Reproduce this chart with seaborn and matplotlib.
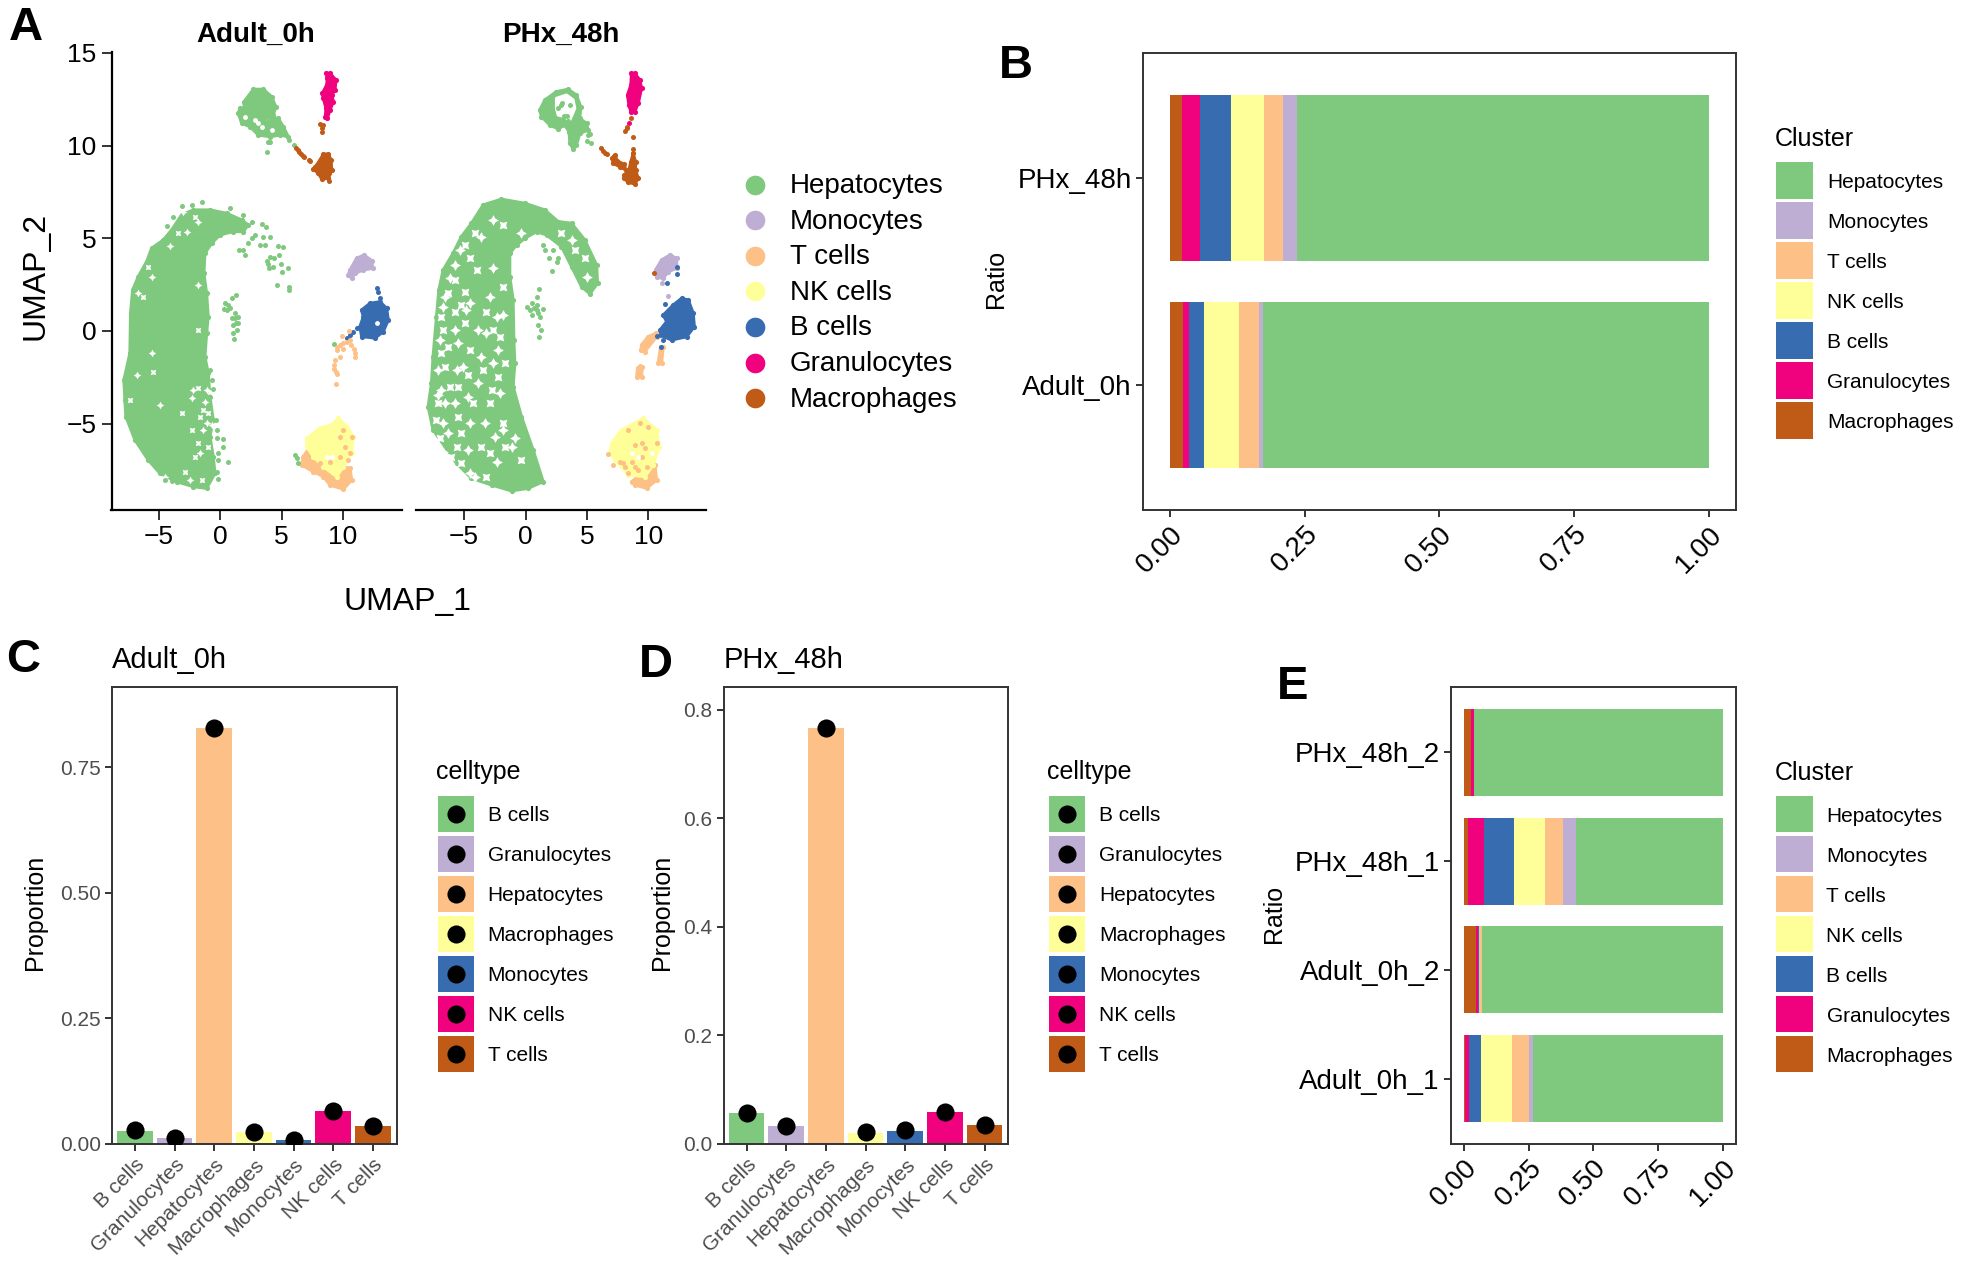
#!/usr/bin/env python3
# Cell composition figure: UMAPs (A), stacked ratios (B, E), proportions (C, D)
import matplotlib
matplotlib.use("Agg")
import matplotlib.pyplot as plt
from matplotlib.patches import Rectangle
import seaborn as sns

sns.set_style('white')
plt.rcParams['font.family'] = ['Liberation Sans', 'DejaVu Sans']
plt.rcParams['text.color'] = 'black'

W, H = 1961, 1273

# %% colours
green, purple, orange, yellow, blue, pink, brown = ('#7FC97F', '#BEAED4', '#FDC086', '#FFFF99',
                                                    '#386CB0', '#F0027F', '#BF5B17')
accent = [green, purple, orange, yellow, blue, pink, brown]

# %% bar data
cluster_names = ['Hepatocytes', 'Monocytes', 'T cells', 'NK cells', 'B cells', 'Granulocytes', 'Macrophages']
celltypes = ['B cells', 'Granulocytes', 'Hepatocytes', 'Macrophages', 'Monocytes', 'NK cells', 'T cells']

# order in the stacks: Macrophages .. Hepatocytes
b_groups = ['PHx_48h', 'Adult_0h']
b_phx = [0.023, 0.033, 0.058, 0.060, 0.037, 0.025, 0.764]
b_adult = [0.024, 0.012, 0.027, 0.065, 0.037, 0.008, 0.827]

e_groups = ['PHx_48h_2', 'PHx_48h_1', 'Adult_0h_2', 'Adult_0h_1']
e_phx2 = [0.027, 0.010, 0.000, 0.000, 0.002, 0.001, 0.960]
e_phx1 = [0.017, 0.061, 0.115, 0.120, 0.071, 0.047, 0.569]
e_adult2 = [0.047, 0.009, 0.002, 0.002, 0.008, 0.002, 0.930]
e_adult1 = [0.003, 0.015, 0.047, 0.120, 0.068, 0.014, 0.733]

c_bars = [0.0253, 0.0106, 0.8276, 0.0229, 0.0065, 0.0645, 0.0343]
c_dots = [0.0265, 0.0106, 0.8276, 0.0229, 0.0080, 0.0645, 0.0343]
d_bars = [0.0574, 0.0325, 0.7652, 0.0204, 0.0242, 0.0589, 0.0347]
d_dots = [0.0574, 0.0317, 0.7652, 0.0211, 0.0249, 0.0582, 0.0347]

# %% UMAP, Adult_0h (outlines of the dense clouds, then single cells)
a_body = [(-3.97, 5.45), (-3.16, 6.26), (-2.21, 6.53), (-0.85, 6.53), (0.51, 6.35), (1.73, 5.99), (2.27, 5.72),
          (1.87, 5.36), (1.05, 5.36), (-0.04, 5.18), (-0.71, 4.73), (-1.26, 4.19), (-1.34, 3.11), (-1.12, 2.03),
          (-0.99, 0.77), (-1.12, -0.13), (-1.26, -1.38), (-0.99, -2.28), (-0.85, -3.54), (-0.58, -4.80),
          (-0.85, -5.70), (-0.58, -6.78), (-0.44, -7.68), (-1.12, -8.49), (-2.21, -8.40), (-3.57, -8.13),
          (-4.93, -7.68), (-5.88, -6.96), (-6.96, -5.88), (-7.70, -4.62), (-7.78, -3.72), (-7.86, -2.64),
          (-7.37, -1.20), (-7.32, 0.95), (-7.15, 2.21), (-6.69, 2.93), (-6.01, 3.74), (-5.60, 4.46), (-4.65, 4.91)]
a_holes = [(-6.69, 2.03), (-6.28, 1.85), (-5.60, -1.20), (-5.47, -2.19), (-6.83, -2.37), (-7.37, -3.72), (-4.93, -3.99),
           (-3.16, -4.44), (-2.34, -3.63), (-2.34, -5.34), (-1.80, 2.48), (-1.80, 0.05), (-2.21, -3.18), (-1.80, -3.09),
           (-1.67, -6.60), (-2.07, -6.78), (-1.26, -3.81), (-1.39, -4.26), (-1.12, -3.18), (-0.85, -3.27), (-1.12, -4.98),
           (-1.67, -4.62), (-1.39, -5.34), (-1.80, -6.06), (-2.75, 5.36), (-3.43, 5.27), (-4.11, 4.59), (-5.88, 3.47),
           (-5.60, 2.93), (-2.89, -7.59), (-2.48, -8.04), (-1.53, -8.04), (-4.52, -7.90), (-0.99, -6.24), (-0.71, -5.07),
           (-0.99, -4.44), (-1.80, 5.90), (-2.07, 6.17), (-3.02, 6.44)]
a_green_pts = [(3.36, 5.76), (3.71, 5.63), (2.82, 5.18), (3.50, 5.09), (4.04, 5.09), (2.55, 5.00), (3.22, 4.64),
               (3.63, 4.64), (2.27, 4.77), (4.72, 4.59), (5.07, 4.55), (1.54, 4.37), (1.87, 4.37), (2.00, 4.10),
               (4.80, 4.10), (3.77, 3.80), (4.04, 4.01), (4.37, 3.96), (3.90, 3.62), (4.26, 3.47), (3.99, 3.38),
               (4.91, 3.62), (5.53, 3.42), (5.05, 3.17), (4.58, 2.50), (5.62, 2.36), (5.59, 2.21), (-0.31, -5.79),
               (0.24, -5.83), (0.24, -6.24), (-0.17, -6.60), (-0.17, -6.96), (0.64, -7.05), (-0.25, -7.63), (-0.23, -7.97),
               (-0.71, -2.64), (-0.58, -3.13), (-0.85, -2.10), (-0.31, -5.34), (-0.36, -4.80), (-4.38, 5.67), (-3.84, 6.17),
               (-3.16, 6.75), (-2.34, 6.80), (-1.53, 6.94), (0.78, 6.62), (1.87, 6.26), (2.55, 5.90), (-4.52, -8.04),
               (-3.97, -8.08), (1.27, 1.94), (0.92, 1.76), (0.37, 1.53), (0.29, 1.17), (0.78, 1.22), (1.19, 0.95), (1.46, 0.77),
               (1.27, 0.41), (1.32, 0.05), (1.00, -0.13), (1.11, -0.43), (0.64, 1.40), (0.56, 1.13), (0.92, 0.68), (1.05, 0.32),
               (1.19, 0.68), (1.46, 0.41), (9.26, -0.70), (6.08, -6.69), (6.27, -6.87), (6.35, -7.14), (3.91, 10.21), (4.05, 10.21),
               (3.83, 9.66), (5.57, 10.30), (5.97, 10.05)]
a_purple = [(10.56, 3.29), (11.10, 3.92), (11.70, 4.10), (12.33, 3.80), (12.41, 3.38), (11.65, 3.29), (10.97, 3.11),
            (10.70, 2.84), (10.42, 3.02)]
a_blue = [(11.51, 1.13), (12.19, 1.49), (13.00, 1.58), (13.55, 1.22), (13.68, 0.59), (13.28, -0.03), (12.60, -0.39),
          (11.51, -0.30), (11.37, 0.23), (11.65, 0.77)]
a_blue_pts = [(11.10, 0.14), (10.83, -0.03), (10.56, -0.22), (10.29, -0.40), (12.73, 2.30), (12.87, 2.12), (13.00, 1.76)]
a_orange_pts = [(10.51, 0.02), (9.88, -0.27), (10.56, -0.49), (10.29, -0.57), (10.02, -0.67), (9.75, -0.75), (9.47, -0.84),
                (10.61, -0.75), (9.47, -1.02), (10.02, -0.97), (10.91, -0.99), (10.97, -1.20), (10.97, -1.38), (9.75, -1.42),
                (9.34, -1.56), (9.28, -1.83), (9.26, -2.07), (9.42, -2.19), (9.47, -2.32), (9.42, -2.86), (10.02, -5.34),
                (10.70, -5.70), (9.75, -5.70), (10.15, -6.24), (10.56, -6.60), (10.42, -6.96), (9.75, -6.78), (8.93, -7.05),
                (8.11, -7.14), (7.84, -7.41)]
a_yellow = [(7.03, -5.79), (8.11, -5.25), (9.07, -5.07), (9.61, -4.71), (10.29, -5.16), (10.83, -5.70), (10.70, -6.60),
            (10.02, -7.32), (9.47, -7.86), (8.39, -7.32), (7.57, -6.78), (7.03, -6.24)]
a_orange = [(7.03, -6.51), (7.57, -6.69), (8.39, -7.14), (9.47, -7.77), (10.02, -7.32), (10.56, -7.41), (10.70, -8.04),
            (10.02, -8.54), (8.93, -8.31), (8.39, -7.86), (7.57, -7.59), (6.62, -7.23), (6.76, -6.78)]
a_head = [(1.93, 12.37), (2.69, 13.04), (3.50, 13.04), (4.18, 12.64), (4.51, 12.10), (4.32, 11.65), (3.50, 11.38),
          (3.09, 11.47), (2.69, 11.74), (2.28, 11.92), (1.93, 12.01)]
a_neck = [(1.60, 12.01), (2.28, 11.92), (2.69, 11.65), (3.09, 11.38), (3.64, 11.20), (4.18, 11.47), (4.72, 11.47),
          (5.13, 11.02), (5.54, 10.48), (4.86, 10.57), (4.05, 10.48), (3.09, 10.57), (2.42, 11.02), (1.74, 11.20), (1.46, 11.74)]
a_neck_holes = [(2.82, 11.38), (3.37, 11.02), (4.18, 10.84), (3.09, 11.20), (2.01, 11.56), (12.73, 0.41),
                (8.66, -6.78), (9.07, -6.78)]
a_brown = [(7.85, 8.95), (8.39, 9.53), (8.80, 9.55), (9.02, 9.22), (9.07, 8.68), (8.80, 8.23), (8.26, 8.20), (7.98, 8.50),
           (7.58, 8.74), (7.71, 8.86)]
a_brown_pts = [(6.16, 9.89), (6.30, 9.76), (6.44, 9.66), (6.57, 9.55), (6.71, 9.44), (6.82, 9.39), (7.25, 9.20), (7.30, 9.16),
               (8.88, 8.09), (8.83, 8.50), (8.12, 11.15), (8.39, 11.11), (8.26, 10.93), (8.26, 10.75)]
a_pink = [(8.61, 13.90), (8.93, 13.90), (9.42, 13.54), (9.34, 13.00), (9.07, 12.73), (9.21, 12.37), (8.93, 11.92),
          (8.72, 11.47), (8.55, 11.56), (8.61, 12.01), (8.39, 12.55), (8.31, 12.82), (8.66, 13.27), (8.72, 13.63)]

# %% UMAP, PHx_48h
p_body = [(-3.45, 6.80), (-1.96, 7.11), (-0.05, 6.89), (1.57, 6.53), (2.66, 5.90), (3.75, 5.81), (4.83, 4.91), (5.79, 3.56),
          (5.87, 2.57), (5.24, 2.00), (4.56, 2.39), (3.75, 3.47), (2.93, 4.55), (1.71, 5.18), (0.90, 5.36), (-0.05, 5.00),
          (-0.73, 4.64), (-1.28, 4.19), (-1.28, 2.93), (-1.01, 1.67), (-0.95, -0.49), (-0.87, -1.74), (-1.01, -3.00),
          (-0.33, -4.62), (0.62, -6.42), (1.44, -8.13), (0.22, -8.49), (-1.14, -8.63), (-2.77, -8.31), (-4.40, -7.95),
          (-5.62, -7.14), (-6.57, -6.24), (-7.53, -5.34), (-7.93, -4.08), (-7.66, -2.82), (-7.53, -1.38), (-7.25, 0.77),
          (-7.06, 2.21), (-6.71, 3.29), (-5.90, 4.19), (-5.22, 5.09), (-4.40, 5.81)]
p_holes = [(-2.64, 5.99), (-1.82, 5.72), (-0.33, 5.27), (-4.13, 5.27), (-3.59, 5.09), (-4.95, 4.64), (-5.76, 3.56), (-4.54, 3.92),
           (-5.35, 4.37), (-5.76, 2.75), (-6.17, 2.84), (-6.30, 2.03), (-6.58, 1.85), (-4.95, 2.12), (-4.54, 1.49), (-3.99, 3.29),
           (-2.64, 3.38), (-1.82, 2.39), (-2.91, 1.85), (-5.22, 1.40), (-4.81, 1.13), (-5.76, 1.04), (-6.71, 1.31), (-6.85, 0.77),
           (-1.82, 0.86), (-3.18, 1.04), (-2.36, 0.77), (-2.64, 0.05), (-3.86, 0.05), (-4.95, 0.41), (-5.76, 0.05), (-6.71, 0.05),
           (-6.98, -0.49), (-6.30, -0.84), (-5.49, -0.66), (-4.54, -1.02), (-3.18, -0.13), (-2.09, -0.31), (-2.23, -1.02),
           (-1.69, -1.74), (-5.08, -1.92), (-4.67, -2.37), (-5.62, -2.10), (-6.58, -1.92), (-7.12, -2.10), (-3.45, -2.10),
           (-2.64, -1.74), (-2.23, -2.46), (-3.59, -1.38), (-6.85, -1.20), (-6.85, -3.18), (-6.17, -3.00), (-7.12, -3.45),
           (-5.49, -3.00), (-6.58, -3.90), (-7.12, -3.90), (-5.76, -3.90), (-7.25, -4.80), (-6.71, -4.98), (-5.49, -4.62),
           (-4.67, -3.54), (-4.27, -3.90), (-3.86, -2.82), (-2.77, -3.18), (-2.09, -3.36), (-2.91, -3.90), (-3.32, -4.98),
           (-1.82, -4.98), (-2.50, -5.70), (-3.59, -6.24), (-4.54, -4.98), (-5.22, -5.52), (-6.30, -5.52), (-6.98, -5.79),
           (-6.71, -6.51), (-5.62, -6.24), (-4.67, -6.42), (-2.91, -6.60), (-1.14, -6.24), (-1.69, -6.24), (-4.54, -7.68),
           (-5.22, -7.14), (-4.13, -7.86), (-6.03, -6.78), (-2.36, -7.05), (-3.18, -7.86), (-0.87, -5.79), (-0.33, -6.96),
           (-1.82, -5.34), (2.93, 5.27), (3.75, 4.91), (4.83, 3.92), (4.97, 2.93), (4.02, 4.37)]
p_green_pts = [(1.57, 4.37), (1.90, 3.96), (2.66, 3.92), (2.53, 3.74), (2.12, 3.24), (1.44, 4.64), (2.25, 4.37), (1.11, 2.25),
               (0.90, 1.85), (0.49, 1.49), (0.16, 1.31), (0.35, 1.13), (0.49, 0.86), (0.90, 1.13), (1.44, 1.17), (1.17, 0.77),
               (1.03, 0.32), (1.25, 0.05), (1.09, -0.31), (0.71, 1.22), (1.03, 0.95), (0.90, 1.40), (5.10, 10.57), (5.29, 10.61),
               (4.97, 10.23), (5.37, 10.12)]
p_ring = [(1.16, 11.92), (1.57, 12.46), (2.52, 12.91), (3.47, 13.04), (4.15, 12.73), (4.50, 12.10), (4.42, 11.47), (4.97, 11.20),
          (5.10, 10.84), (4.42, 10.66), (4.15, 10.03), (3.88, 9.82), (3.61, 10.12), (3.55, 10.75), (3.20, 11.11), (2.66, 10.90),
          (1.98, 11.11), (1.30, 11.56)]
p_ring_hole = [(2.52, 12.55), (3.34, 12.73), (3.88, 12.46), (4.01, 12.01), (3.61, 11.38), (3.20, 11.56), (2.66, 11.65), (2.52, 12.01)]
p_ring_pts = [(2.93, 12.19), (2.66, 12.01), (3.15, 11.60), (3.47, 11.33), (3.39, 11.06), (3.61, 12.19), (3.01, 12.28), (3.34, 11.60)]
p_pink = [(8.63, 13.90), (8.90, 13.90), (9.31, 13.54), (9.45, 13.09), (9.18, 12.28), (8.90, 11.83), (8.58, 11.83), (8.42, 12.19),
          (8.31, 12.73), (8.58, 13.27)]
p_pink_pts = [(8.44, 11.24)]
p_brown_a = [(7.06, 9.31), (7.27, 9.49), (7.49, 9.17), (8.04, 8.99), (8.17, 8.68), (7.68, 8.86), (7.14, 9.04)]
p_brown_b = [(8.04, 8.41), (8.42, 8.68), (8.58, 9.13), (8.77, 9.58), (8.96, 9.13), (8.96, 8.68), (9.18, 8.23), (8.90, 7.93),
             (8.36, 8.02), (8.04, 8.23)]
p_brown_pts = [(6.13, 9.85), (6.32, 9.71), (6.46, 9.62), (6.65, 9.53), (7.19, 9.46), (8.23, 10.97), (8.14, 10.79), (8.23, 11.02),
               (8.77, 10.45), (8.77, 9.82), (8.63, 11.51), (10.43, 3.11)]
p_purple = [(10.59, 3.29), (11.08, 3.83), (11.76, 4.10), (12.31, 3.92), (12.31, 3.38), (11.63, 3.20), (11.22, 2.84), (10.68, 2.90)]
p_purple_pts = [(11.08, 2.57), (11.57, 1.89)]
p_blue = [(11.22, 0.86), (12.03, 1.40), (12.71, 1.76), (13.26, 1.67), (13.66, 0.95), (13.75, 0.23), (13.12, -0.31), (11.90, -0.49),
          (10.95, -0.22), (10.95, 0.05), (11.49, 0.50)]
p_blue_pts = [(12.31, 3.47), (12.31, 3.06), (11.55, 2.57), (11.35, 1.44), (10.73, -0.25), (11.22, -0.49), (11.03, -0.84)]
p_streak_a = [(9.45, -0.75), (9.99, -0.31), (10.59, -0.13), (10.68, -0.31), (9.72, -1.11), (9.40, -1.02)]
p_streak_b = [(11.00, -0.84), (11.22, -0.84), (11.08, -1.74), (10.81, -1.71)]
p_streak_c = [(9.13, -2.01), (9.51, -1.92), (9.45, -2.46), (9.05, -2.46)]
p_yellow = [(7.01, -6.06), (7.82, -5.34), (8.91, -4.98), (9.59, -4.71), (10.68, -5.34), (10.89, -6.24), (10.40, -7.23),
            (9.72, -7.86), (8.37, -7.77), (7.28, -6.96), (6.87, -6.60)]
p_orange = [(8.64, -8.13), (9.45, -7.68), (9.99, -7.32), (10.54, -7.23), (10.68, -8.04), (9.86, -8.49), (8.91, -8.31)]
p_orange_pts = [(9.34, -1.89), (8.37, -5.34), (9.32, -4.98), (9.99, -5.16), (8.91, -6.15), (9.45, -6.06), (9.72, -6.33), (10.68, -6.06),
                (6.74, -6.66), (7.14, -7.23), (7.69, -7.05), (8.09, -7.32), (8.64, -7.05), (9.45, -6.78), (9.86, -7.32), (8.37, -7.68),
                (7.96, -7.14), (8.91, -7.32), (9.18, -7.50)]
p_small_holes = [(9.18, -6.78), (8.64, -6.60), (10.27, -6.60)]


def axes_px(left, top, right, bottom):
    return fig.add_axes([left / W, 1 - bottom / H, (right - left) / W, (bottom - top) / H])


def dots(ax, pts, color, s=13, z=3, marker='o'):
    xs, ys = zip(*pts)
    sns.scatterplot(x=list(xs), y=list(ys), color=color, s=s, linewidth=0, ax=ax, legend=False, zorder=z, marker=marker)


def cloud(ax, outline, color):
    xs, ys = zip(*outline)
    ax.fill(xs, ys, color=color, lw=2.2, joinstyle='round', zorder=2)
    if color != 'white':
        dots(ax, outline, color, 14, 2)


def holes(ax, pts, s):
    # gaps between packed cells are star shaped, not round
    dots(ax, pts[::2], 'white', s, 2.5, (4, 1, 0))
    dots(ax, pts[1::2], 'white', s, 2.5, (4, 1, 45))


def style_ticks(ax, size, color='black', length=5):
    ax.tick_params(axis='both', which='major', bottom=True, left=True, length=length, width=1.4, color='#333333',
                   labelsize=size, labelcolor=color, pad=3)


def stacked(ax, groups, rows):
    # cumulative bars, longest first, so each stack shows through the next
    order = [brown, pink, blue, yellow, orange, purple, green]
    for k in range(6, -1, -1):
        sns.barplot(x=[sum(r[:k + 1]) for r in rows], y=groups, order=groups, color=order[k], width=0.8,
                    saturation=1, linewidth=0, orient='h', ax=ax)
    ax.set_xlim(-0.05, 1.05)
    ax.set_ylim(len(groups) - 0.4, -0.6)
    ax.set_xticks([0, 0.25, 0.5, 0.75, 1.0])
    ax.set_xticklabels(['0.00', '0.25', '0.50', '0.75', '1.00'], rotation=45, ha='right', rotation_mode='anchor')
    ax.set_xlabel('')
    ax.set_ylabel('')
    style_ticks(ax, 20)
    for s in ax.spines.values():
        s.set_linewidth(1.4)
        s.set_color('#333333')


def proportion(ax, bars, points, title, ylim, yticks, fmt):
    sns.barplot(x=celltypes, y=bars, hue=celltypes, palette=accent, width=0.9, saturation=1, linewidth=0, legend=False, ax=ax)
    sns.scatterplot(x=celltypes, y=points, color='black', s=170, linewidth=0, ax=ax, legend=False, zorder=4)
    ax.set_xlim(-0.58, 6.6)
    ax.set_ylim(0, ylim)
    ax.set_yticks(yticks)
    ax.set_yticklabels([fmt % v for v in yticks])
    ax.set_xticks(range(7))
    ax.set_xticklabels(celltypes, rotation=45, ha='right', rotation_mode='anchor')
    style_ticks(ax, 15, '#4D4D4D', 5)
    ax.set_ylabel('')
    ax.set_xlabel('')
    for s in ax.spines.values():
        s.set_linewidth(1.4)
        s.set_color('#333333')
    fig.text(ax.get_position().x0, 1 - 660 / H, title, fontsize=21, ha='left', va='center')


fig = plt.figure(figsize=(W / 100, H / 100), dpi=100)
overlay = fig.add_axes([0, 0, 1, 1], zorder=5)
overlay.set_xlim(0, W)
overlay.set_ylim(H, 0)
overlay.axis('off')

# %% A
ax1 = axes_px(111.5, 52, 402, 510)
ax2 = axes_px(415.5, 52, 706, 510)

cloud(ax1, a_body, green)
holes(ax1, a_holes, 30)
dots(ax1, a_green_pts, green)
cloud(ax1, a_head, green)
cloud(ax1, a_neck, green)
cloud(ax1, a_purple, purple)
cloud(ax1, a_blue, blue)
dots(ax1, a_blue_pts, blue)
cloud(ax1, a_orange, orange)
cloud(ax1, a_yellow, yellow)
dots(ax1, a_orange_pts, orange)
dots(ax1, a_neck_holes, 'white', 12)
cloud(ax1, a_brown, brown)
dots(ax1, a_brown_pts, brown)
cloud(ax1, a_pink, pink)

cloud(ax2, p_body, green)
holes(ax2, p_holes, 60)
dots(ax2, p_green_pts, green)
cloud(ax2, p_ring, green)
cloud(ax2, p_ring_hole, 'white')
dots(ax2, p_ring_pts, green)
cloud(ax2, p_pink, pink)
dots(ax2, p_pink_pts, pink)
cloud(ax2, p_brown_a, brown)
cloud(ax2, p_brown_b, brown)
dots(ax2, p_brown_pts, brown)
cloud(ax2, p_purple, purple)
dots(ax2, p_purple_pts, purple)
cloud(ax2, p_blue, blue)
dots(ax2, p_blue_pts, blue)
cloud(ax2, p_streak_a, orange)
cloud(ax2, p_streak_b, orange)
cloud(ax2, p_streak_c, orange)
cloud(ax2, p_orange, orange)
cloud(ax2, p_yellow, yellow)
dots(ax2, p_orange_pts, orange)
dots(ax2, p_small_holes, 'white', 12)

ax1.set_xlim(-8.87, 14.8)
ax2.set_xlim(-8.96, 14.7)
for ax in (ax1, ax2):
    ax.set_ylim(-9.66, 15.05)
    ax.set_xticks([-5, 0, 5, 10])
    ax.set_yticks([-5, 0, 5, 10, 15])
    style_ticks(ax, 19, 'black', 7)
    ax.tick_params(pad=4)
    sns.despine(ax=ax)
    for s in ax.spines.values():
        s.set_linewidth(1.6)
        s.set_color('black')
ax2.spines['left'].set_visible(False)
ax2.tick_params(left=False, labelleft=False)
fig.text(256 / W, 1 - 34.5 / H, 'Adult_0h', fontsize=20, fontweight='bold', ha='center', va='center')
fig.text(561 / W, 1 - 34.5 / H, 'PHx_48h', fontsize=20, fontweight='bold', ha='center', va='center')
fig.text(407 / W, 1 - 601.5 / H, 'UMAP_1', fontsize=23, ha='center', va='center')
fig.text(35.5 / W, 1 - 276 / H, 'UMAP_2', fontsize=23, rotation=90, ha='center', va='center')

for i, (name, col) in enumerate(zip(cluster_names, accent)):
    y = 184 + i * 35.6
    overlay.scatter([755], [y + 0.5], s=200, color=col, linewidths=0)
    fig.text(789.5 / W, 1 - (y + 2) / H, name, fontsize=20, ha='left', va='center')

# %% B
ax_b = axes_px(1142.7, 53, 1736, 510)
stacked(ax_b, b_groups, [b_phx, b_adult])
fig.text(996 / W, 1 - 279 / H, 'Ratio', fontsize=18, rotation=90, ha='center', va='center')

# %% C, D
ax_c = axes_px(112, 687.4, 396.7, 1143.7)
proportion(ax_c, c_bars, c_dots, 'Adult_0h', 0.9095, [0, 0.25, 0.5, 0.75], '%.2f')
ax_d = axes_px(723.5, 687.4, 1008.4, 1143.7)
proportion(ax_d, d_bars, d_dots, 'PHx_48h', 0.8408, [0, 0.2, 0.4, 0.6, 0.8], '%.1f')
fig.text(34.7 / W, 1 - 912.5 / H, 'Proportion', fontsize=18, rotation=90, ha='center', va='center')
fig.text(662 / W, 1 - 912.5 / H, 'Proportion', fontsize=18, rotation=90, ha='center', va='center')

# %% E
ax_e = axes_px(1451, 687, 1735.8, 1143.9)
stacked(ax_e, e_groups, [e_phx2, e_phx1, e_adult2, e_adult1])
fig.text(1274 / W, 1 - 914 / H, 'Ratio', fontsize=18, rotation=90, ha='center', va='center')


# %% legends
def key_block(title, names, left, top, text_x, title_y, title_x, with_dot=False):
    fig.text(title_x / W, 1 - title_y / H, title, fontsize=18, ha='left', va='center')
    for i, name in enumerate(names):
        y = top + i * 40
        overlay.add_patch(Rectangle((left, y), 36.5, 36.5, facecolor=accent[i], edgecolor='none'))
        if with_dot:
            overlay.scatter([left + 18], [y + 18.2], s=170, color='black', linewidths=0, zorder=4)
        fig.text(text_x / W, 1 - (y + 20.3) / H, name, fontsize=15, ha='left', va='center')


key_block('Cluster', cluster_names, 1776, 162, 1827, 138.5, 1774.5)
key_block('celltype', celltypes, 437.5, 795.6, 487.6, 772.5, 436, True)
key_block('celltype', celltypes, 1048.8, 795.6, 1099, 772.5, 1047, True)
key_block('Cluster', cluster_names, 1776, 795.8, 1826.5, 772.5, 1774.5)

# %% panel letters
letters = ['A', 'B', 'C', 'D', 'E']
letter_x = [26, 1016, 23, 656, 1293]
letter_y = [28, 66.5, 660, 664.5, 687]
for lab, lx, ly in zip(letters, letter_x, letter_y):
    fig.text(lx / W, 1 - ly / H, lab, fontsize=34, fontweight='bold', ha='center', va='center')

fig.savefig('out.png', dpi=100)
